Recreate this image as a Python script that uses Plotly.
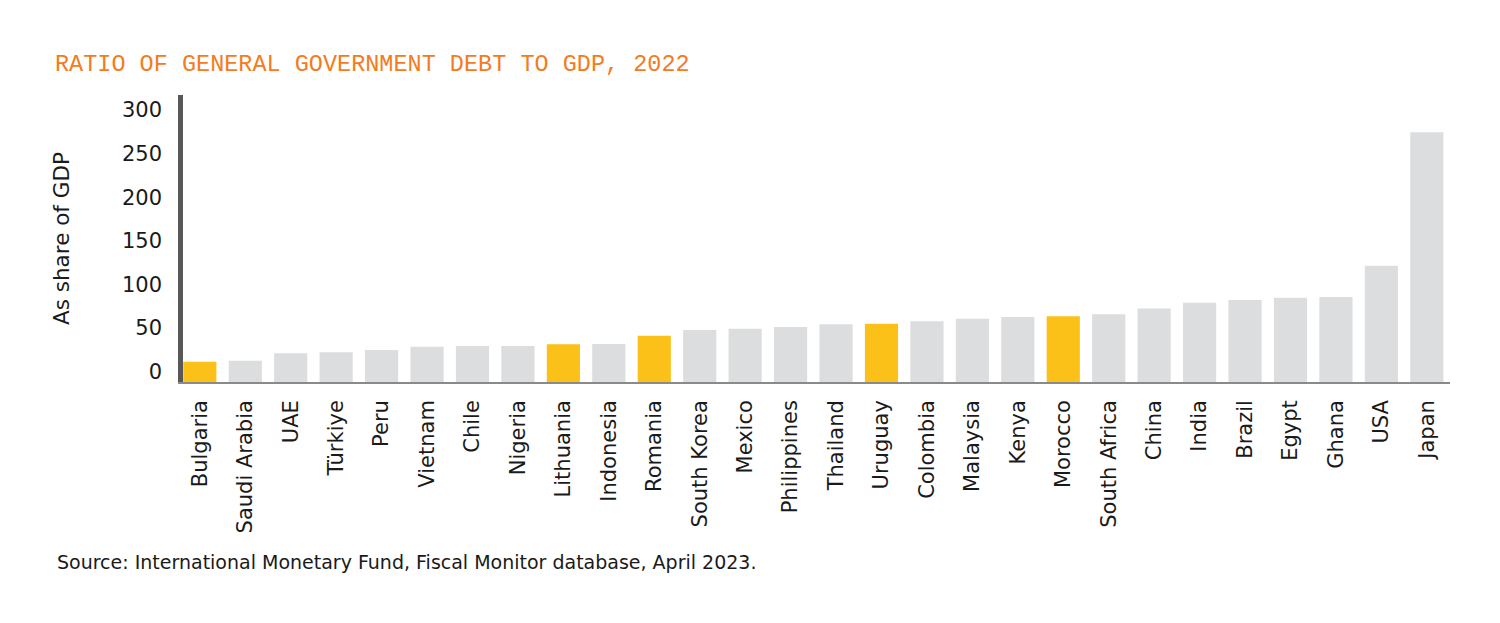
import plotly.graph_objects as go

countries = ["Bulgaria", "Saudi Arabia", "UAE", "Türkiye", "Peru", "Vietnam", "Chile",
             "Nigeria", "Lithuania", "Indonesia", "Romania", "South Korea", "Mexico",
             "Philippines", "Thailand", "Uruguay", "Colombia", "Malaysia", "Kenya",
             "Morocco", "South Africa", "China", "India", "Brazil", "Egypt", "Ghana",
             "USA", "Japan"]
debt_ratio = [21.2, 22.3, 30.0, 31.0, 33.4, 36.9, 37.6, 37.6, 39.4, 39.7, 48.3, 54.4,
              55.7, 57.5, 60.3, 60.9, 63.4, 66.2, 67.9, 68.7, 70.8, 76.8, 82.9, 85.7,
              88.1, 88.8, 121.6, 261.0]
highlighted = ["Bulgaria", "Lithuania", "Romania", "Uruguay", "Morocco"]
y_ticks = [0, 50, 100, 150, 200, 250, 300]

YELLOW = "#FCC118"
GREY = "#DCDDDE"
colors = [YELLOW if c in highlighted else GREY for c in countries]

FONT = "DejaVu Sans"

fig = go.Figure()
fig.add_trace(go.Bar(x=countries, y=debt_ratio, marker=dict(color=colors, line=dict(width=0)),
                     showlegend=False, hoverinfo="x+y"))
# invisible helper trace on the label axis
fig.add_trace(go.Scatter(x=[countries[0]], y=[0], yaxis="y2", mode="markers",
                         marker=dict(opacity=0), showlegend=False, hoverinfo="skip"))

fig.update_layout(
    width=1500, height=623,
    margin=dict(l=175, r=58, t=87, b=249),
    plot_bgcolor="white", paper_bgcolor="white",
    bargap=0.27,
    title=dict(text="RATIO OF GENERAL GOVERNMENT DEBT TO GDP, 2022",
               font=dict(family="Liberation Mono", size=23.5, color="#F47B20"),
               xref="container", x=47 / 1500, xanchor="left",
               yref="container", y=1 - 55 / 623, yanchor="middle"),
    xaxis=dict(type="category", range=[-0.37, 27.51],
               showline=True, linecolor="#8A8A8A", linewidth=1.5,
               showgrid=False, zeroline=False, ticks="", tickangle=-90,
               ticklabelstandoff=8,
               tickfont=dict(family=FONT, size=21, color="#1a1a1a")),
    yaxis=dict(range=[0, 300], showline=True, linecolor="#58585A", linewidth=5,
               showgrid=False, zeroline=False, showticklabels=False, ticks=""),
    yaxis2=dict(overlaying="y", side="left", range=[-11.8, 317.2],
                tickvals=y_ticks, showgrid=False, zeroline=False, showline=False,
                ticks="", ticklabelstandoff=20,
                tickfont=dict(family=FONT, size=21, color="#1a1a1a"),
                title=dict(text="As share of GDP", standoff=46,
                           font=dict(family=FONT, size=21.5, color="#1a1a1a"))),
    annotations=[dict(text="Source: International Monetary Fund, Fiscal Monitor database, April 2023.",
                      xref="paper", yref="paper", x=(47 - 175) / 1267, y=(374 - 554) / 287,
                      xanchor="left", yanchor="middle", showarrow=False,
                      font=dict(family=FONT, size=19, color="#1a1a1a"))],
)

fig.write_html("out.html")
